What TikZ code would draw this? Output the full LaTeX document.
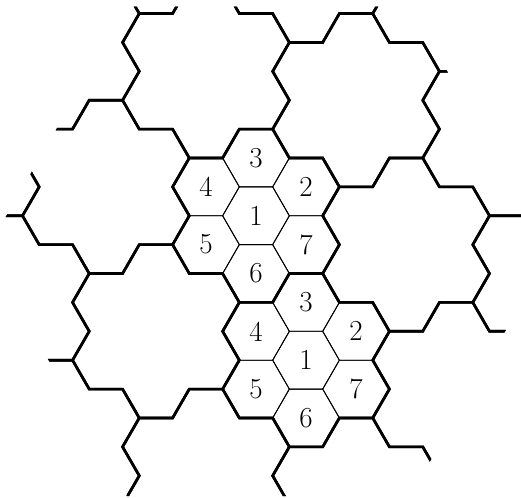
\documentclass[tikz,border=0pt]{standalone}
\usetikzlibrary{shapes.geometric}
\begin{document}
\begin{tikzpicture}[x=0.3336cm,y=-0.5778cm,
  cell/.style={regular polygon,regular polygon sides=6,draw,line width=0.5pt,
    minimum size=1.3344cm,inner sep=0pt,outer sep=0pt,
    font=\fontsize{16.5}{20}\selectfont},
  rim/.style={line width=1.5pt}]
\useasboundingbox (-15.35,-7.47) rectangle (15.89,9.76);
\foreach \cx/\cy/\p in {0/0/a,3/5/b}{
  \node[cell] (\p1) at (\cx,\cy) {1};
  \node[cell] (\p2) at (\cx+3,\cy-1) {2};
  \node[cell] (\p3) at (\cx,\cy-2) {3};
  \node[cell] (\p4) at (\cx-3,\cy-1) {4};
  \node[cell] (\p5) at (\cx-3,\cy+1) {5};
  \node[cell] (\p6) at (\cx,\cy+2) {6};
  \node[cell] (\p7) at (\cx+3,\cy+1) {7};
}
\begin{scope}
\clip (-16.2,1.235) -- (-7.725,-7.24) -- (9.225,-7.24) -- (17.7,1.235)
  -- (9.225,9.71) -- (-7.725,9.71) -- cycle;
\foreach \n in {-3,...,4}
  \foreach \m in {-3,...,3}
    \draw[rim,shift={({3*\n+6*\m},{5*\n-4*\m})}] (-1,-3) -- (1,-3) -- (2,-2)
      -- (4,-2) -- (5,-1) -- (4,0) -- (5,1) -- (4,2) -- (2,2) -- (1,3) -- (-1,3)
      -- (-2,2) -- (-4,2) -- (-5,1) -- (-4,0) -- (-5,-1) -- (-4,-2) -- (-2,-2) -- cycle;
\end{scope}
\end{tikzpicture}
\end{document}
